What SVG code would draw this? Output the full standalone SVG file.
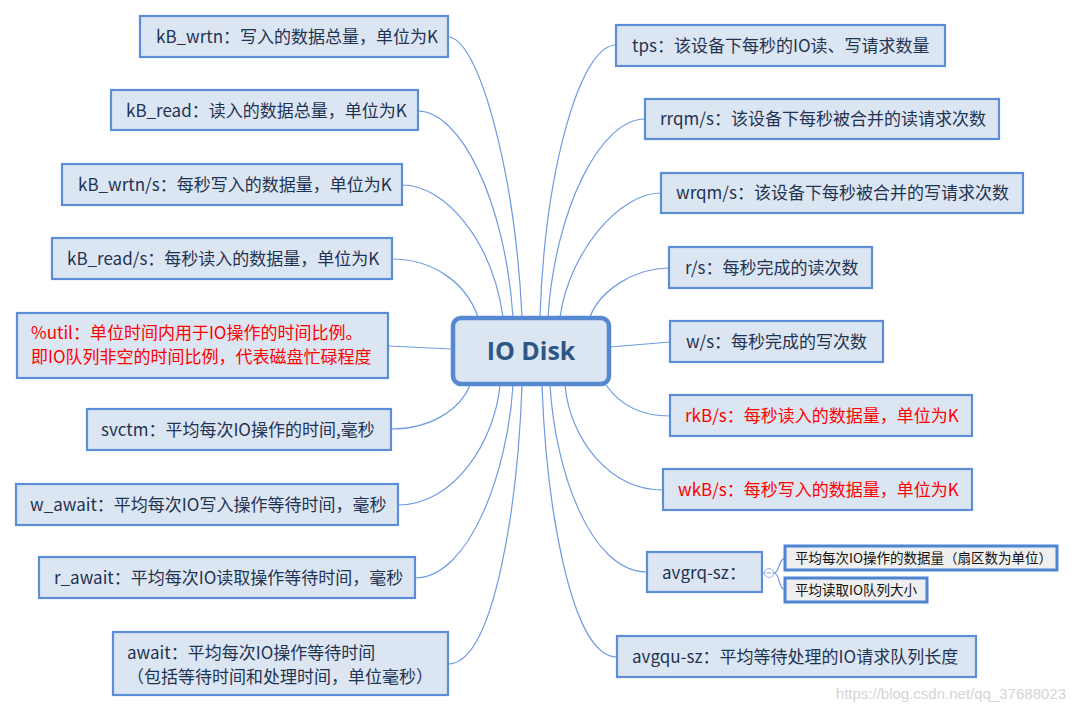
<svg xmlns="http://www.w3.org/2000/svg" width="1075" height="713" viewBox="0 0 1075 713">
<style>
.box{fill:#dce6f2;stroke:#5b8ed7;stroke-width:2.2}
.sub{fill:#efefef;stroke:#4d84d3;stroke-width:3}
.t{font-family:"Microsoft YaHei","Noto Sans CJK SC",sans-serif;font-size:17px;fill:#1f3352}
.r{fill:#ff0000}
.s{font-family:"Microsoft YaHei","Noto Sans CJK SC",sans-serif;font-size:13.5px;fill:#111}
.c{fill:none;stroke:#6f9be0;stroke-width:1.2}
</style>
<rect width="1075" height="713" fill="#ffffff"/>
<g id="connectors">
<path class="c" d="M448 37 C478 37 515 170 522 317"/>
<path class="c" d="M418 111 C460 111 505 200 513 317"/>
<path class="c" d="M402 185 C445 185 492 240 503 317"/>
<path class="c" d="M392 259 C430 259 465 280 478 317"/>
<path class="c" d="M388 346 L452 349"/>
<path class="c" d="M391 429 C430 429 460 410 470 385"/>
<path class="c" d="M398 505 C455 505 495 440 500 385"/>
<path class="c" d="M415 578 C470 578 508 470 513 385"/>
<path class="c" d="M448 664 C495 664 518 500 522 385"/>
<path class="c" d="M616 45 C580 45 545 170 540 317"/>
<path class="c" d="M645 119 C600 119 555 210 548 317"/>
<path class="c" d="M661 193 C620 193 570 250 560 317"/>
<path class="c" d="M669 268 C635 268 600 290 590 317"/>
<path class="c" d="M670 342 L610 347"/>
<path class="c" d="M670 416 C640 416 620 405 606 385"/>
<path class="c" d="M663 490 C610 490 570 440 565 385"/>
<path class="c" d="M647 572 C590 572 555 470 550 385"/>
<path class="c" d="M617 657 C570 657 546 500 542 385"/>
<path class="c" d="M762 573 L764 573"/>
<path class="c" d="M774 573 C780 573 778 558 786 558"/>
<path class="c" d="M774 573 C780 573 778 590 786 590"/>
</g>
<g id="center">
<rect x="453" y="318" width="156" height="66" rx="8" fill="#dce6f2" stroke="#5689d2" stroke-width="4.5"/>
<text x="531" y="360" text-anchor="middle" font-family="'Open Sans','Noto Sans',sans-serif" font-weight="bold" font-size="25" fill="#2e5684">IO Disk</text>
</g>
<g id="kB_wrtn"><rect class="box" x="140" y="16" width="308" height="41"/><text class="t" x="156" y="43">kB_wrtn：写入的数据总量，单位为K</text></g>
<g id="kB_read"><rect class="box" x="111" y="90" width="307" height="40"/><text class="t" x="126" y="117">kB_read：读入的数据总量，单位为K</text></g>
<g id="kB_wrtn_s"><rect class="box" x="62" y="164" width="340" height="41"/><text class="t" x="78" y="191">kB_wrtn/s：每秒写入的数据量，单位为K</text></g>
<g id="kB_read_s"><rect class="box" x="52" y="238" width="340" height="41"/><text class="t" x="67" y="265">kB_read/s：每秒读入的数据量，单位为K</text></g>
<g id="util"><rect class="box" x="17" y="313" width="371" height="65"/><text class="t r" x="31" y="339">%util：单位时间内用于IO操作的时间比例。</text><text class="t r" x="31" y="363">即IO队列非空的时间比例，代表磁盘忙碌程度</text></g>
<g id="svctm"><rect class="box" x="87" y="409" width="304" height="41"/><text class="t" x="101" y="436">svctm：平均每次IO操作的时间,毫秒</text></g>
<g id="w_await"><rect class="box" x="16" y="484" width="382" height="41"/><text class="t" x="30" y="511">w_await：平均每次IO写入操作等待时间，毫秒</text></g>
<g id="r_await"><rect class="box" x="39" y="557" width="376" height="41"/><text class="t" x="54" y="584">r_await：平均每次IO读取操作等待时间，毫秒</text></g>
<g id="await"><rect class="box" x="113" y="632" width="335" height="63"/><text class="t" x="127" y="659">await：平均每次IO操作等待时间</text><text class="t" x="127" y="683">（包括等待时间和处理时间，单位毫秒）</text></g>
<g id="tps"><rect class="box" x="616" y="25" width="329" height="41"/><text class="t" x="632" y="52">tps：该设备下每秒的IO读、写请求数量</text></g>
<g id="rrqm"><rect class="box" x="645" y="99" width="354" height="40"/><text class="t" x="660" y="125">rrqm/s：该设备下每秒被合并的读请求次数</text></g>
<g id="wrqm"><rect class="box" x="661" y="173" width="362" height="40"/><text class="t" x="676" y="199">wrqm/s：该设备下每秒被合并的写请求次数</text></g>
<g id="rs"><rect class="box" x="669" y="247" width="203" height="41"/><text class="t" x="685" y="274">r/s：每秒完成的读次数</text></g>
<g id="ws"><rect class="box" x="670" y="321" width="213" height="41"/><text class="t" x="686" y="348">w/s：每秒完成的写次数</text></g>
<g id="rkBs"><rect class="box" x="670" y="395" width="302" height="41"/><text class="t r" x="685" y="422">rkB/s：每秒读入的数据量，单位为K</text></g>
<g id="wkBs"><rect class="box" x="663" y="469" width="309" height="41"/><text class="t r" x="678" y="496">wkB/s：每秒写入的数据量，单位为K</text></g>
<g id="avgrq"><rect class="box" x="647" y="552" width="115" height="40"/><text class="t" x="662" y="579">avgrq-sz：</text>
<circle cx="769" cy="573" r="4.5" fill="#fff" stroke="#9bb8e2" stroke-width="1.2"/><line x1="766.5" y1="573" x2="771.5" y2="573" stroke="#9bb8e2" stroke-width="1.2"/></g>
<g id="avgrq_sub1"><rect class="sub" x="785" y="546" width="272" height="24"/><text class="s" x="795" y="563">平均每次IO操作的数据量（扇区数为单位）</text></g>
<g id="avgrq_sub2"><rect class="sub" x="785" y="578" width="142" height="24"/><text class="s" x="795" y="595">平均读取IO队列大小</text></g>
<g id="avgqu"><rect class="box" x="617" y="636" width="359" height="41"/><text class="t" x="632" y="663">avgqu-sz：平均等待处理的IO请求队列长度</text></g>
<text x="1066" y="699" text-anchor="end" font-family="'Liberation Sans',Arial,sans-serif" font-size="15" fill="#d4d4d4">https://blog.csdn.net/qq_37688023</text>
</svg>
